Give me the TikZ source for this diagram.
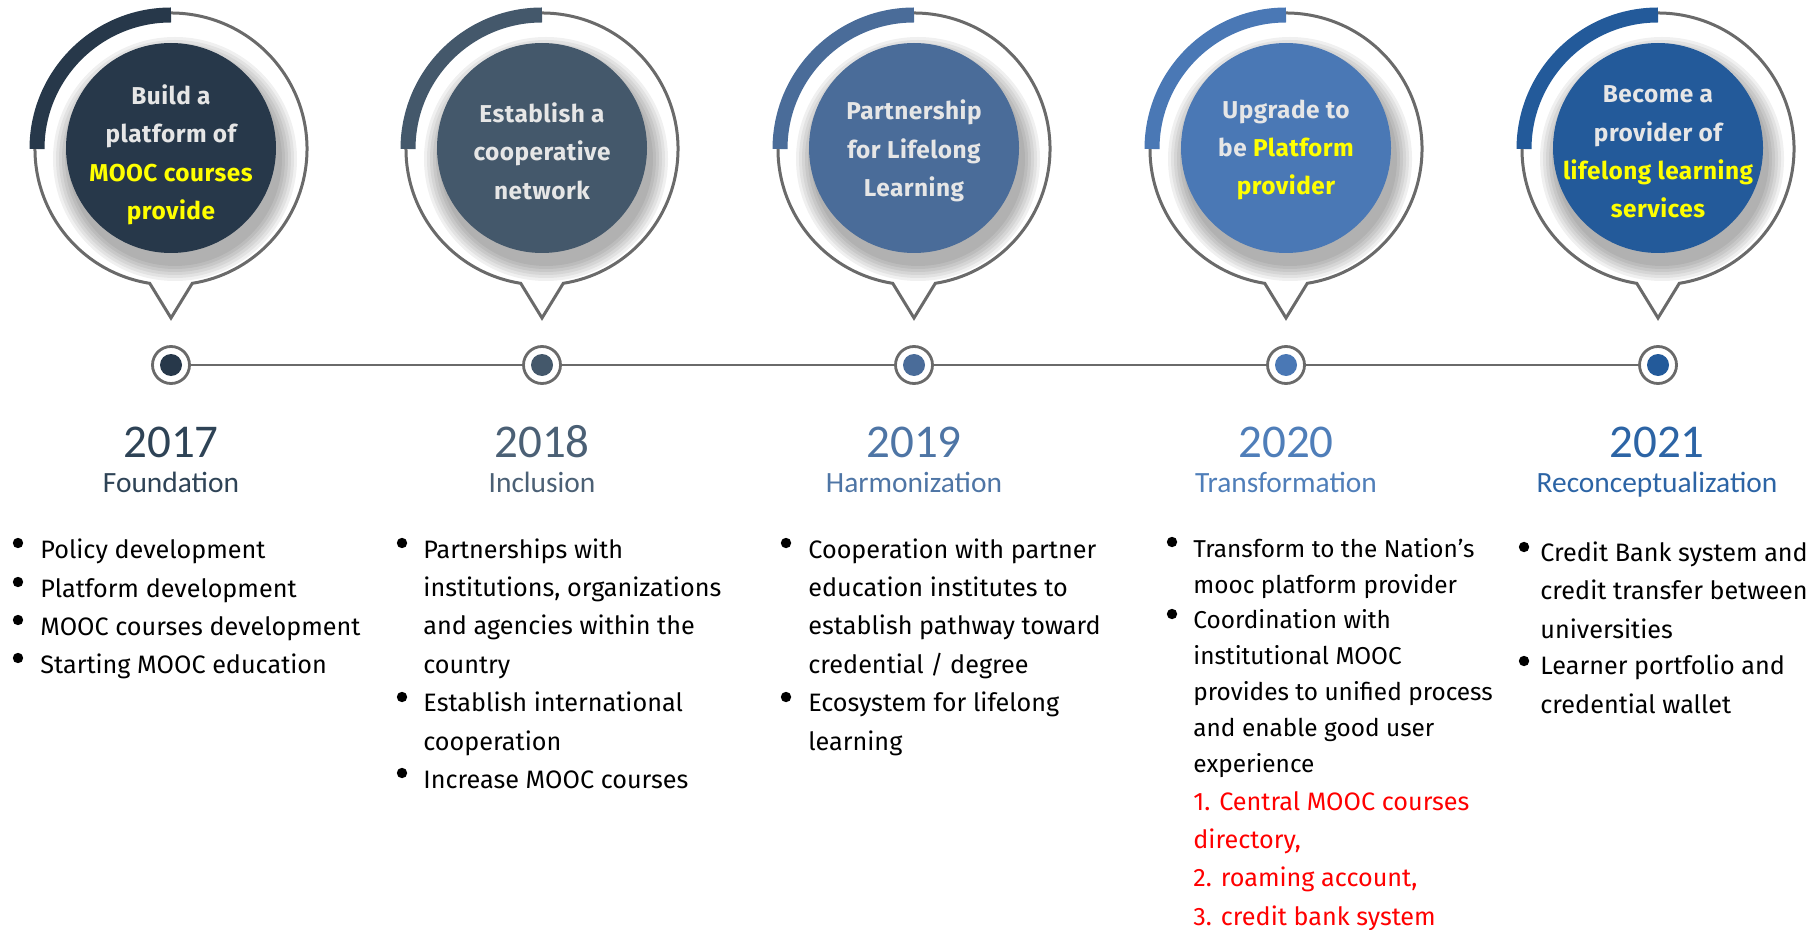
\documentclass[tikz,border=0pt]{standalone}
\usepackage{fontspec}
\setmainfont{Fira Sans}
\newfontfamily\yearfont{Carlito}
\usetikzlibrary{positioning}

\definecolor{navyA}{HTML}{27384A}
\definecolor{navyB}{HTML}{44586B}
\definecolor{navyC}{HTML}{4A6C99}
\definecolor{navyD}{HTML}{4A78B5}
\definecolor{navyE}{HTML}{235A9A}
\definecolor{yrA}{HTML}{2E4356}
\definecolor{yrB}{HTML}{4B6075}
\definecolor{yrC}{HTML}{4E75A5}
\definecolor{yrD}{HTML}{4F7EB9}
\definecolor{yrE}{HTML}{2C64A5}
\definecolor{rimgray}{HTML}{6A6A6A}
\definecolor{capwhite}{HTML}{E6E6E6}
\definecolor{hiyel}{HTML}{FFFF00}
\definecolor{alertred}{HTML}{FF0000}

\newcommand{\hiy}[1]{\textcolor{hiyel}{#1}}

\begin{document}
\begin{tikzpicture}[x=0.5pt, y=-0.5pt,
	outline/.style={draw=rimgray, line width=1.5pt},
	sweep/.style={line width=7.5pt},
	core/.style={circle, minimum size=105pt, inner sep=0pt},
	caption/.style={align=center, text=capwhite, inner sep=0pt,
		font=\bfseries\fontsize{12.2}{19.2}\selectfont\addfontfeature{LetterSpace=2}},
	ring/.style={circle, draw=rimgray, line width=1.4pt, fill=white,
		minimum size=18.5pt, inner sep=0pt},
	pip/.style={circle, minimum size=11pt, inner sep=0pt},
	tline/.style={draw=rimgray, line width=1.4pt},
	yr/.style={anchor=base, inner sep=0pt, font=\yearfont\fontsize{23.5}{24}\selectfont},
	phase/.style={anchor=base, inner sep=0pt, font=\yearfont\fontsize{14.7}{16}\selectfont},
	% multi-line items are anchored at the baseline of their last line
	itm/.style={anchor=base west, align=left, inner sep=0pt,
		font=\fontsize{12.6}{19.15}\selectfont},
	tight/.style={font=\fontsize{12.2}{18}\selectfont},
	dot/.style={circle, fill=black, minimum size=5.2pt, inner sep=0pt}]
	\useasboundingbox (0,0) rectangle (1807,930);

	% balloon frames, accent arcs and soft shadows
	\foreach \cx/\col in {171/navyA,542/navyB,914/navyC,1286/navyD,1658/navyE}{
		\foreach \k in {1,...,6}
			\fill[black, opacity=0.06] (\cx+4,159) circle[radius=104+3*\k];
		\draw[outline] (\cx,149) ++(99:136) arc[start angle=99, end angle=441, radius=136]
			-- (\cx,318) -- cycle;
		\draw[sweep, draw=\col] (\cx,149) ++(180:134) arc[start angle=180, end angle=270, radius=134];
	}

	\node[core, fill=navyA] (b1) at (171,148) {};
	\node[core, fill=navyB] (b2) at (542,148) {};
	\node[core, fill=navyC] (b3) at (914,148) {};
	\node[core, fill=navyD] (b4) at (1286,148) {};
	\node[core, fill=navyE] (b5) at (1658,148) {};

	\node[caption] (t1) at (171,155) {Build a\\platform of\\\hiy{MOOC courses}\\\hiy{provide}};
	\node[caption] (t2) at (542,151) {Establish a\\cooperative\\network};
	\node[caption] (t3) at (914,151) {Partnership\\for Lifelong\\Learning};
	\node[caption] (t4) at (1286,150) {Upgrade to\\be \hiy{Platform}\\\hiy{provider}};
	\node[caption] (t5) at (1658,152) {Become a\\provider of\\\hiy{lifelong learning}\\\hiy{services}};

	% timeline
	\node[ring] (r1) at (171,365) {};
	\node[ring] (r2) at (542,365) {};
	\node[ring] (r3) at (914,365) {};
	\node[ring] (r4) at (1286,365) {};
	\node[ring] (r5) at (1658,365) {};
	\draw[tline] (r1) -- (r2) -- (r3) -- (r4) -- (r5);
	\node[pip, fill=navyA] (q1) at (r1) {};
	\node[pip, fill=navyB] (q2) at (r2) {};
	\node[pip, fill=navyC] (q3) at (r3) {};
	\node[pip, fill=navyD] (q4) at (r4) {};
	\node[pip, fill=navyE] (q5) at (r5) {};

	% years and stages
	\node[yr, text=yrA] (y1) at (171,457) {2017};
	\node[yr, text=yrB] (y2) at (542,457) {2018};
	\node[yr, text=yrC] (y3) at (914,457) {2019};
	\node[yr, text=yrD] (y4) at (1286,457) {2020};
	\node[yr, text=yrE] (y5) at (1657,457) {2021};
	\node[phase, text=yrA] (s1) at (171,492) {Foundation};
	\node[phase, text=yrB] (s2) at (542,492) {Inclusion};
	\node[phase, text=yrC] (s3) at (914,492) {Harmonization};
	\node[phase, text=yrD] (s4) at (1286,492) {Transformation};
	\node[phase, text=yrE] (s5) at (1657,492) {Reconceptualization};

	% 2017
	\node[itm] (f11) at (40,558) {Policy development};
	\node[itm] (f12) at (40,597) {Platform development};
	\node[itm] (f13) at (40,635) {MOOC courses development};
	\node[itm] (f14) at (40,673) {Starting MOOC education};
	\node[dot] (m11) at (18,543) {};
	\node[dot] (m12) at (18,582) {};
	\node[dot] (m13) at (18,620) {};
	\node[dot] (m14) at (18,658) {};

	% 2018
	\node[itm] (f21) at (423,673) {Partnerships with\\institutions, organizations\\and agencies within the\\country};
	\node[itm] (f22) at (423,750) {Establish international\\cooperation};
	\node[itm] (f23) at (423,788) {Increase MOOC courses};
	\node[dot] (m21) at (402,543) {};
	\node[dot] (m22) at (402,697) {};
	\node[dot] (m23) at (402,773) {};

	% 2019
	\node[itm] (f31) at (808,673) {Cooperation with partner\\education institutes to\\establish pathway toward\\credential / degree};
	\node[itm] (f32) at (808,750) {Ecosystem for lifelong\\learning};
	\node[dot] (m31) at (786,543) {};
	\node[dot] (m32) at (786,697) {};

	% 2020
	\node[itm, tight] (f41) at (1193,593) {Transform to the Nation's\\mooc platform provider};
	\node[itm, tight] (f42) at (1193,772) {Coordination with\\institutional MOOC\\provides to unified process\\and enable good user\\experience};
	\node[itm, text=alertred] (f43) at (1193,925) {1. Central MOOC courses\\directory,\\2. roaming account,\\3. credit bank system};
	\node[dot] (m41) at (1172,542) {};
	\node[dot] (m42) at (1172,614) {};

	% 2021
	\node[itm] (f51) at (1540,638) {Credit Bank system and\\credit transfer between\\universities};
	\node[itm] (f52) at (1540,713) {Learner portfolio and\\credential wallet};
	\node[dot] (m51) at (1524,547) {};
	\node[dot] (m52) at (1524,661) {};
\end{tikzpicture}
\end{document}
